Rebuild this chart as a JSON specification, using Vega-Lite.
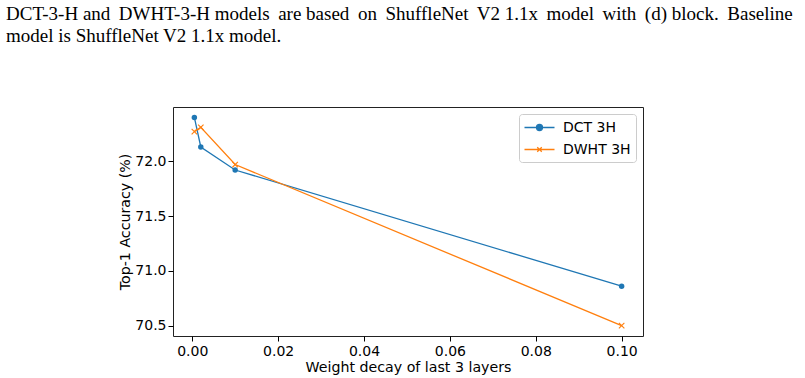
{
  "$schema": "https://vega.github.io/schema/vega-lite/v6.json",
  "width": 470,
  "height": 229,
  "autosize": {"type": "none"},
  "padding": {"left": 173, "top": 107, "right": 162, "bottom": 42},
  "background": "white",
  "title": {
    "text": ["DCT-3-H and\u2009 DWHT-3-H models\u2009 are based\u2009 on\u2009 ShuffleNet\u2009 V2 1.1x\u2009 model\u2009 with\u2009 (d) block.\u2009 Baseline", "model is ShuffleNet V2 1.1x model."],
    "anchor": "start",
    "frame": "group",
    "font": "Liberation Serif",
    "fontSize": 19,
    "fontWeight": "normal",
    "color": "#000000",
    "lineHeight": 22,
    "baseline": "top",
    "offset": 0,
    "dx": -167,
    "dy": -61
  },
  "data": {
    "values": [
      {"series": "DCT 3H", "wd": 0.0005, "acc": 72.40},
      {"series": "DCT 3H", "wd": 0.002, "acc": 72.13},
      {"series": "DCT 3H", "wd": 0.01, "acc": 71.92},
      {"series": "DCT 3H", "wd": 0.1, "acc": 70.86},
      {"series": "DWHT 3H", "wd": 0.0005, "acc": 72.27},
      {"series": "DWHT 3H", "wd": 0.002, "acc": 72.31},
      {"series": "DWHT 3H", "wd": 0.01, "acc": 71.97},
      {"series": "DWHT 3H", "wd": 0.1, "acc": 70.50}
    ]
  },
  "encoding": {
    "x": {
      "field": "wd",
      "type": "quantitative",
      "scale": {"domain": [-0.004475, 0.104975], "nice": false, "zero": false},
      "axis": {
        "title": "Weight decay of last 3 layers",
        "values": [0, 0.02, 0.04, 0.06, 0.08, 0.1],
        "format": ".2f",
        "grid": false,
        "domain": false,
        "tickSize": 5,
        "labelPadding": 3,
        "titlePadding": 2
      }
    },
    "y": {
      "field": "acc",
      "type": "quantitative",
      "scale": {"domain": [70.405, 72.495], "nice": false, "zero": false},
      "axis": {
        "title": "Top-1 Accuracy (%)",
        "values": [70.5, 71.0, 71.5, 72.0],
        "format": ".1f",
        "grid": false,
        "domain": false,
        "tickSize": 5,
        "labelPadding": 2,
        "titlePadding": 2
      }
    },
    "color": {
      "field": "series",
      "type": "nominal",
      "scale": {"domain": ["DCT 3H", "DWHT 3H"], "range": ["#1f77b4", "#ff7f0e"]}
    }
  },
  "layer": [
    {
      "mark": {"type": "line", "strokeWidth": 1.3},
      "encoding": {
        "color": {
          "field": "series",
          "type": "nominal",
          "scale": {"domain": ["DCT 3H", "DWHT 3H"], "range": ["#1f77b4", "#ff7f0e"]},
          "legend": {
            "title": null,
            "orient": "top-right",
            "offset": 7,
            "padding": 5,
            "symbolType": "circle",
            "symbolSize": 225,
            "symbolOffset": 7,
            "labelOffset": 15,
            "rowPadding": 6,
            "labelFont": "DejaVu Sans",
            "labelFontSize": 14,
            "labelColor": "#000000",
            "strokeColor": "#cccccc",
            "fillColor": "white",
            "cornerRadius": 3,
            "encode": {
              "symbols": {
                "update": {
                  "shape": {"signal": "datum.value === 'DCT 3H' ? 'M-2,0L2,0M0.4,0A0.4,0.4,0,1,1,-0.4,0A0.4,0.4,0,1,1,0.4,0Z' : 'M-2,0L2,0M-0.3,-0.3L0.3,0.3M-0.3,0.3L0.3,-0.3'"},
                  "fill": {"signal": "datum.value === 'DCT 3H' ? '#1f77b4' : 'transparent'"},
                  "stroke": {"signal": "datum.value === 'DCT 3H' ? '#1f77b4' : '#ff7f0e'"},
                  "strokeWidth": {"value": 1.3},
                  "opacity": {"value": 1},
                  "fillOpacity": {"value": 1},
                  "strokeOpacity": {"value": 1},
                  "size": {"value": 225}
                }
              }
            }
          }
        }
      }
    },
    {
      "transform": [{"filter": "datum.series === 'DCT 3H'"}],
      "mark": {"type": "point", "filled": true, "shape": "circle", "size": 30, "opacity": 1}
    },
    {
      "transform": [{"filter": "datum.series === 'DWHT 3H'"}],
      "mark": {"type": "point", "filled": false, "shape": "M-1,-1L1,1M-1,1L1,-1", "size": 30, "strokeWidth": 1.1, "opacity": 1}
    }
  ],
  "config": {
    "view": {"stroke": "#222222", "strokeWidth": 1},
    "axis": {
      "labelFont": "DejaVu Sans",
      "labelFontSize": 14,
      "labelColor": "#000000",
      "titleFont": "DejaVu Sans",
      "titleFontSize": 14.2,
      "titleFontWeight": "normal",
      "titleColor": "#000000",
      "tickColor": "#000000",
      "tickWidth": 1
    }
  }
}
